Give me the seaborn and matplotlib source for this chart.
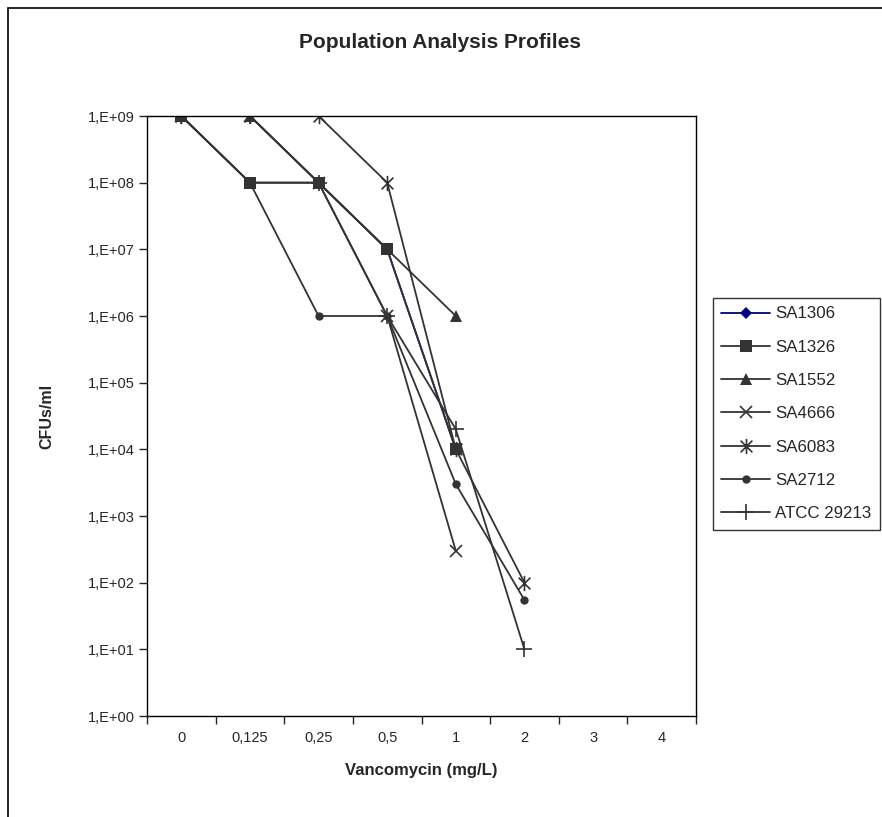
import numpy as np
import pandas as pd
import matplotlib
matplotlib.use('Agg')
import matplotlib.pyplot as plt
import seaborn as sns
from matplotlib.path import Path
from matplotlib.patches import Rectangle

# category labels along x (vancomycin concentrations)
conc_labels = ['0', '0,125', '0,25', '0,5', '1', '2', '3', '4']

# CFU/ml per strain (None = not measured)
sa1306 = [1e9, 1e8, 1e8, 1e7, 1e4, None, None, None]
sa1326 = [1e9, 1e8, 1e8, 1e7, 1e4, None, None, None]
sa1552 = [1e9, 1e9, 1e8, 1e7, 1e6, None, None, None]
sa4666 = [1e9, 1e9, 1e8, 1e6, 3e2, None, None, None]
sa6083 = [1e9, 1e9, 1e9, 1e8, 1e4, 1e2, None, None]
sa2712 = [1e9, 1e8, 1e6, 1e6, 3e3, 55, None, None]
atcc = [1e9, 1e9, 1e8, 1e6, 2e4, 1e1, None, None]

strains = ['SA1306', 'SA1326', 'SA1552', 'SA4666', 'SA6083', 'SA2712', 'ATCC 29213']
values = [sa1306, sa1326, sa1552, sa4666, sa6083, sa2712, atcc]

y_ticks = [1e0, 1e1, 1e2, 1e3, 1e4, 1e5, 1e6, 1e7, 1e8, 1e9]
y_labels = ['1,E+00', '1,E+01', '1,E+02', '1,E+03', '1,E+04',
            '1,E+05', '1,E+06', '1,E+07', '1,E+08', '1,E+09']

rows = []
for name, vals in zip(strains, values):
    for i, v in enumerate(vals):
        if v is not None:
            rows.append({'strain': name, 'pos': i, 'cfu': v})
df = pd.DataFrame(rows)

sns.set_style('white')
plt.rcParams['font.family'] = ['Liberation Sans Narrow', 'Liberation Sans', 'DejaVu Sans']

# excel-like asterisk: x plus vertical bar
ast = Path([(-1, -1), (1, 1), (-1, 1), (1, -1), (0, -1.3), (0, 1.3)],
           [Path.MOVETO, Path.LINETO, Path.MOVETO, Path.LINETO, Path.MOVETO, Path.LINETO])

styles = {
    'SA1306': dict(color='#000080', marker='D', ms=6, mew=0),
    'SA1326': dict(color='#333333', marker='s', ms=8, mew=0),
    'SA1552': dict(color='#333333', marker='^', ms=9, mew=0),
    'SA4666': dict(color='#333333', marker='x', ms=9, mew=1.2),
    'SA6083': dict(color='#333333', marker=ast, ms=11, mew=1.2),
    'SA2712': dict(color='#333333', marker='o', ms=6, mew=0),
    'ATCC 29213': dict(color='#333333', marker='+', ms=11, mew=1.2),
}

fig = plt.figure(figsize=(8.82, 8.17), dpi=100)
ax = fig.add_axes([147/882, 1-716/817, 549/882, 600/817])

for name in strains:
    st = styles[name]
    sub = df[df['strain'] == name]
    sns.lineplot(data=sub, x='pos', y='cfu', ax=ax, color=st['color'], lw=1.3,
                 marker=st['marker'], markersize=st['ms'], markeredgewidth=st['mew'],
                 markeredgecolor=st['color'], markerfacecolor=st['color'], label=name)

ax.set_yscale('log')
ax.set_ylim(1, 1e9)
ax.set_xlim(-0.5, 7.5)
ax.set_yticks(y_ticks)
ax.set_yticklabels(y_labels, fontsize=10.5)
ax.yaxis.set_minor_locator(matplotlib.ticker.NullLocator())
ax.set_xticks(range(len(conc_labels)))
ax.set_xticklabels(conc_labels, fontsize=10.5)
ax.set_xticks(np.arange(-0.5, 8, 1), minor=True)
ax.tick_params(axis='x', which='major', length=0, pad=11)
ax.tick_params(axis='x', which='minor', length=6, width=1, direction='out', bottom=True)
ax.tick_params(axis='y', which='major', length=6, width=1, direction='out', left=True, pad=3)

for s in ax.spines.values():
    s.set_color('black')
    s.set_linewidth(1)

ax.set_xlabel('Vancomycin (mg/L)', fontsize=12, fontweight='bold', labelpad=13)
ax.set_ylabel('CFUs/ml', fontsize=11.5, fontweight='bold', labelpad=24)
fig.text(440/882, 1-43/817, 'Population Analysis Profiles', ha='center', va='center',
         fontsize=15, fontweight='bold')

leg = ax.legend(loc='upper left', bbox_to_anchor=(713/882, 1-298/817),
                bbox_transform=fig.transFigure, frameon=True, fancybox=False,
                fontsize=12.2, handlelength=2.85, labelspacing=1.08,
                borderpad=0.5, handletextpad=0.3, borderaxespad=0)
leg.get_frame().set_edgecolor('black')
leg.get_frame().set_linewidth(1)

# outer chart border (clipped by the image)
fig.patches.append(Rectangle((8/882, -0.1), 1.2, 1-8/817+0.1, transform=fig.transFigure,
                             fill=False, edgecolor='black', lw=1.2))

fig.savefig('out.png', dpi=100, facecolor='white')
